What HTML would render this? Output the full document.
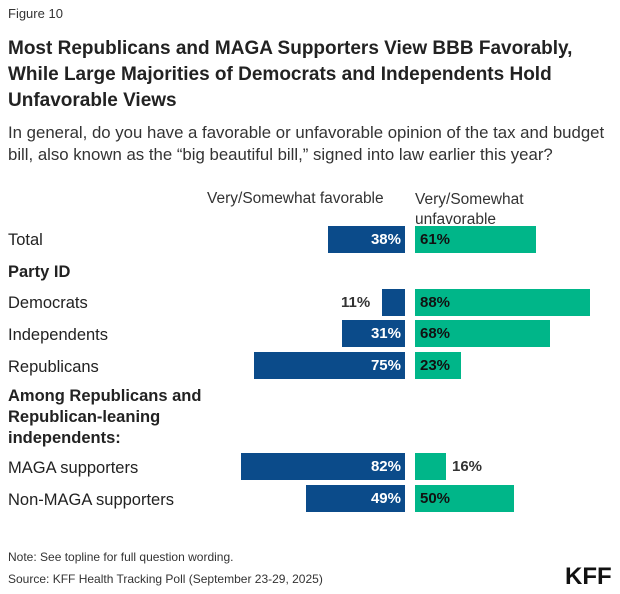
<!DOCTYPE html><html><head><style>
body{margin:0;width:620px;height:594px;background:#fff;font-family:"Liberation Sans",sans-serif;color:#222;position:relative;overflow:hidden}
.a{position:absolute;white-space:nowrap}
.b{position:absolute;height:27px;background:#0b4b8a;color:#fff;font-size:15px;font-weight:bold;line-height:28px;text-align:right;box-sizing:border-box;padding-right:4px}
.g{position:absolute;height:27px;background:#00b689;color:#111;font-size:15px;font-weight:bold;line-height:28px;box-sizing:border-box;padding-left:5px;left:415px}
.l{position:absolute;left:8px;font-size:16.5px;color:#222}
</style></head><body>
<div class="a" style="left:8px;top:6px;font-size:13px;color:#333">Figure 10</div>
<div class="a" style="left:8px;top:36px;font-size:19px;font-weight:bold;line-height:26px;color:#222">Most Republicans and MAGA Supporters View BBB Favorably,<br>While Large Majorities of Democrats and Independents Hold<br>Unfavorable Views</div>
<div class="a" style="left:8px;top:122px;font-size:16.8px;line-height:22px;color:#333">In general, do you have a favorable or unfavorable opinion of the tax and budget<br>bill, also known as the “big beautiful bill,” signed into law earlier this year?</div>
<div class="a" style="left:207px;top:190px;font-size:15.5px;color:#333">Very/Somewhat favorable</div>
<div class="a" style="left:415px;top:190px;font-size:15.5px;line-height:20px;color:#333">Very/Somewhat<br>unfavorable</div>
<div class="l" style="top:231px">Total</div>
<div class="l" style="top:263px;font-weight:bold">Party ID</div>
<div class="l" style="top:294px">Democrats</div>
<div class="l" style="top:326px">Independents</div>
<div class="l" style="top:358px">Republicans</div>
<div class="l" style="top:386px;font-weight:bold;line-height:21px">Among Republicans and<br>Republican-leaning<br>independents:</div>
<div class="l" style="top:459px">MAGA supporters</div>
<div class="l" style="top:491px">Non-MAGA supporters</div>
<div class="b" style="left:328px;width:77px;top:226px">38%</div><div class="g" style="width:121px;top:226px">61%</div>
<div class="a" style="left:341px;top:294px;font-size:15px;font-weight:bold;color:#333">11%</div>
<div class="b" style="left:382px;width:23px;top:289px"></div><div class="g" style="width:175px;top:289px">88%</div>
<div class="b" style="left:342px;width:63px;top:320px">31%</div><div class="g" style="width:135px;top:320px">68%</div>
<div class="b" style="left:254px;width:151px;top:352px">75%</div><div class="g" style="width:46px;top:352px">23%</div>
<div class="b" style="left:241px;width:164px;top:453px">82%</div><div class="g" style="width:31px;top:453px"></div>
<div class="a" style="left:452px;top:458px;font-size:15px;font-weight:bold;color:#333">16%</div>
<div class="b" style="left:306px;width:99px;top:485px">49%</div><div class="g" style="width:99px;top:485px">50%</div>
<div class="a" style="left:8px;top:550px;font-size:12px;color:#333">Note: See topline for full question wording.</div>
<div class="a" style="left:8px;top:572px;font-size:12px;color:#333">Source: KFF Health Tracking Poll (September 23-29, 2025)</div>
<div class="a" style="left:565px;top:563px;font-size:24px;font-weight:bold;color:#111">KFF</div>
</body></html>
